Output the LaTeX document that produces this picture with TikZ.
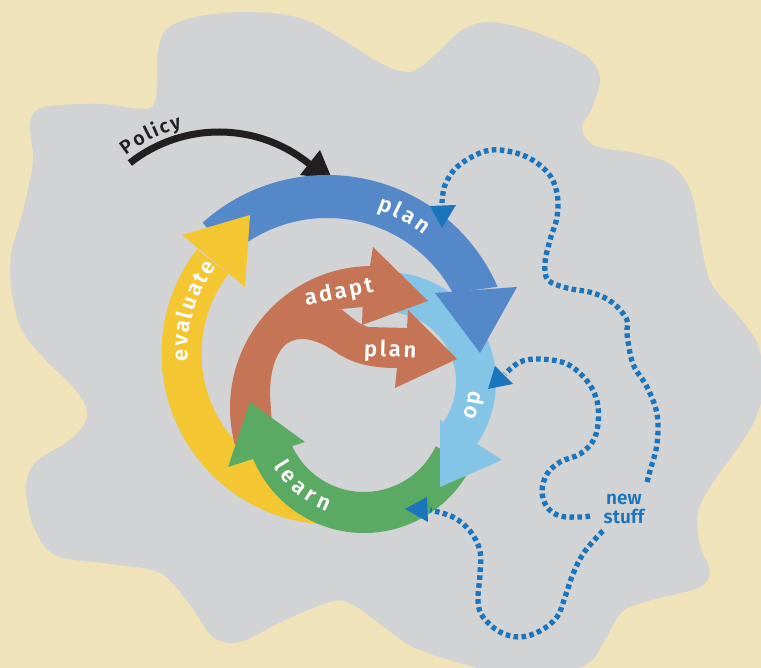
\documentclass[tikz,border=0pt]{standalone}
\usepackage{fontspec}
\setmainfont{Fira Sans}
\newfontfamily\lblfont{Fira Sans SemiBold}[LetterSpace=12]
\newfontfamily\lblplain{Fira Sans SemiBold}
\definecolor{cBeige}{HTML}{F1E3B9}
\definecolor{cGray}{HTML}{D1D3D4}
\definecolor{cBlue}{HTML}{5588C8}
\definecolor{cLight}{HTML}{84C5E7}
\definecolor{cYellow}{HTML}{F3C632}
\definecolor{cGreen}{HTML}{5AAA63}
\definecolor{cTerra}{HTML}{C57555}
\definecolor{cDot}{HTML}{1B75BC}
\definecolor{cBlack}{HTML}{231F20}
\newcommand\fLbl{\lblfont\fontsize{22}{24}\selectfont}
\newcommand\fChr{\lblplain\fontsize{22}{24}\selectfont}
\newcommand\fPol{\lblplain\fontsize{19.5}{21}\selectfont}
\tikzset{
  dotline/.style={cDot, line width=5.3, dash pattern=on 4.6 off 3.4},
  dothead/.style={fill=cDot},
  lbltext/.style={text=white, inner sep=0pt},
  chr/.style={text=white, inner sep=0pt, anchor=base, font=\fChr}
}
\begin{document}
\begin{tikzpicture}[x=1pt,y=1pt]
\useasboundingbox (0,0) rectangle (761,668);
\clip (0,0) rectangle (761,668);
\fill[cBeige] (0,0) rectangle (761,668);
\begin{scope}[shift={(0,668)},yscale=-1]
  \coordinate (cB) at (327,361);
  \coordinate (cY) at (332.5,353.5);
  \coordinate (cG) at (364,413);
  \coordinate (cL) at (386,382);
  \coordinate (cT) at (372,408);
  \coordinate (cK) at (219,275.5);
  \coordinate (tAdapt) at (340,299);
  \coordinate (tPlan) at (390,357);
  \coordinate (tNew) at (624,509);
  % gray blob
  \fill[cGray] plot[smooth cycle, tension=0.55] coordinates {
    (150,108)(157,80)(158,50)(168,28)(200,16)(250,12)(300,18)(340,38)(380,63)(410,72)
    (435,55)(462,30)(490,22)(535,32)(585,55)(600,78)(592,108)(582,128)(595,146)(635,153)
    (672,165)(692,195)(702,250)(712,285)(740,318)(758,345)(764,385)(755,420)(735,452)(712,484)
    (698,512)(700,545)(710,572)(698,588)(648,601)(622,612)(605,640)(590,662)(560,672)(500,672)
    (460,663)(413,647)(380,624)(355,606)(333,601)(283,621)(240,642)(213,637)(190,605)(160,573)
    (110,564)(55,555)(33,525)(26,485)(37,461)(70,440)(87,417)(78,393)(42,356)(22,330)
    (12,295)(11,255)(24,207)(33,160)(30,122)(45,107)(100,104)};
  % black policy arrow
  \draw[cBlack, line width=7] ([shift={(-128.4:143.5)}]cK) arc[start angle=-128.4, end angle=-51, radius=143.5];
  \fill[cBlack] (300,175) -- (320,150) -- (332,179) -- cycle;
  % yellow band (evaluate)
  \fill[cYellow] ([shift={(-266:171)}]cY) arc[start angle=-266, end angle=-142.5, radius=171]
     -- ([shift={(-142.5:131)}]cY) arc[start angle=-142.5, end angle=-250, radius=131] -- cycle;
  % green band (learn)
  \fill[cGreen] ([shift={(25:120)}]cG) arc[start angle=25, end angle=158, radius=120]
     -- ([shift={(158:79)}]cG) arc[start angle=158, end angle=25, radius=79] -- cycle;
  % light blue (do)
  \fill[cLight] ([shift={(-84:110)}]cL) arc[start angle=-84, end angle=35, radius=110]
     -- ([shift={(35:70)}]cL) arc[start angle=35, end angle=-84, radius=70] -- cycle;
  \fill[cLight] (440,420) -- (502,460) -- (440,487) -- cycle;
  % blue (plan)
  \fill[cBlue] ([shift={(-132:186)}]cB) arc[start angle=-132, end angle=-23.5, radius=186]
     -- ([shift={(-28.4:143)}]cB) arc[start angle=-28.4, end angle=-132, radius=143] -- cycle;
  \fill[cBlue] (435,293) -- (517,287) -- (480,353) -- cycle;
  % yellow head
  \fill[cYellow] (182,235) -- (250,215) -- (245,287) -- cycle;
  % terracotta main arc + adapt
  \fill[cTerra] ([shift={(-195.2:142)}]cT) arc[start angle=-195.2, end angle=-90.8, radius=142]
     -- (373,247) -- (428,301) -- (362,325) -- (362.6,307) -- (341,309) -- (310,318)
     -- (285,335) -- (262,365) -- (258,400) -- (260,440) -- cycle;
  % terracotta plan branch
  \fill[cTerra] (341,309) .. controls (350,316) and (358,324) .. (368,327)
     -- (407,328) -- (408,310) -- (457,359) -- (395,388) -- (397,368)
     .. controls (375,368) and (355,365) .. (337,353)
     .. controls (320,341) and (300,333) .. (285,345)
     .. controls (275,355) and (270,372) .. (270,395)
     -- (273,440) -- (255,440) -- (250,380) -- (290,320) -- cycle;
  % green head
  \fill[cGreen] (228,467) -- (305,442) -- (250,402) -- cycle;
  % dotted new-stuff lines
  \draw[dotline] plot[smooth, tension=0.6] coordinates {(647,482)(650,471)(657,444)(657,414)(647,387)(633,364)(627,334)(627,320)(613,303)(593,293)(567,288)(548,280)(545,263)(550,240)(557,217)(557,193)(548,173)(527,157)(500,150)(480,153)(457,167)(445,185)(442,203)};
  \fill[dothead] (430,206) -- (456,205) -- (442,228) -- cycle;
  \draw[dotline] plot[smooth, tension=0.6] coordinates {(590,516)(580,517)(560,516)(547,507)(542,491)(547,474)(560,462)(580,454)(593,441)(598,424)(597,401)(587,381)(567,364)(540,359)(520,362)(505,374)};
  \fill[dothead] (495,366) -- (513,384) -- (488,389) -- cycle;
  \draw[dotline] plot[smooth, tension=0.6] coordinates {(603,531)(597,537)(583,554)(573,574)(565,597)(557,617)(540,631)(520,637)(500,632)(483,617)(478,601)(480,574)(480,551)(470,531)(453,517)(430,510)};
  \fill[dothead] (427,497) -- (428,522) -- (405,509) -- cycle;
\end{scope}
% curved labels, letter by letter
\foreach \ch/\an [count=\k] in {p/69.38, l/64.71, a/60.23, n/54.65}
  \node[chr, rotate=\an-90] (planO\k) at ([shift={(\an:159)}]cB) {\ch};
\foreach \ch/\an [count=\k] in {e/180.67, v/175.2, a/169.84, l/165.38, u/160.72, a/155.07, t/150.25, e/145.34}
  \node[chr, rotate=\an-90] (eval\k) at ([shift={(\an:145)}]cY) {\ch};
\foreach \ch/\an [count=\k] in {d/-10.4, o/-19.7}
  \node[chr, rotate=\an-90] (do\k) at ([shift={(\an:84)}]cL) {\ch};
\foreach \ch/\an [count=\k] in {l/212.4, e/220.0, a/229.2, r/237.3, n/245.8}
  \node[chr, rotate=\an+90] (learn\k) at ([shift={(\an:105)}]cG) {\ch};
\foreach \ch/\an [count=\k] in {P/125.67, o/120.59, l/116.68, i/113.83, c/110.31, y/105.96}
  \node[chr, text=cBlack, font=\fPol, rotate=\an-90] (pol\k) at ([shift={(\an:152)}]cK) {\ch};
% straight labels
\node[lbltext, anchor=base, rotate=11, font=\fLbl] (adapt) at (tAdapt) {adapt};
\node[lbltext, anchor=base, rotate=-2, font=\fLbl] (plan2) at (tPlan) {plan};
\node[text=cDot, align=center, inner sep=0pt, font=\lblplain\fontsize{19}{19}\selectfont] (newstuff) at (tNew) {new\\stuff};
\end{tikzpicture}
\end{document}
